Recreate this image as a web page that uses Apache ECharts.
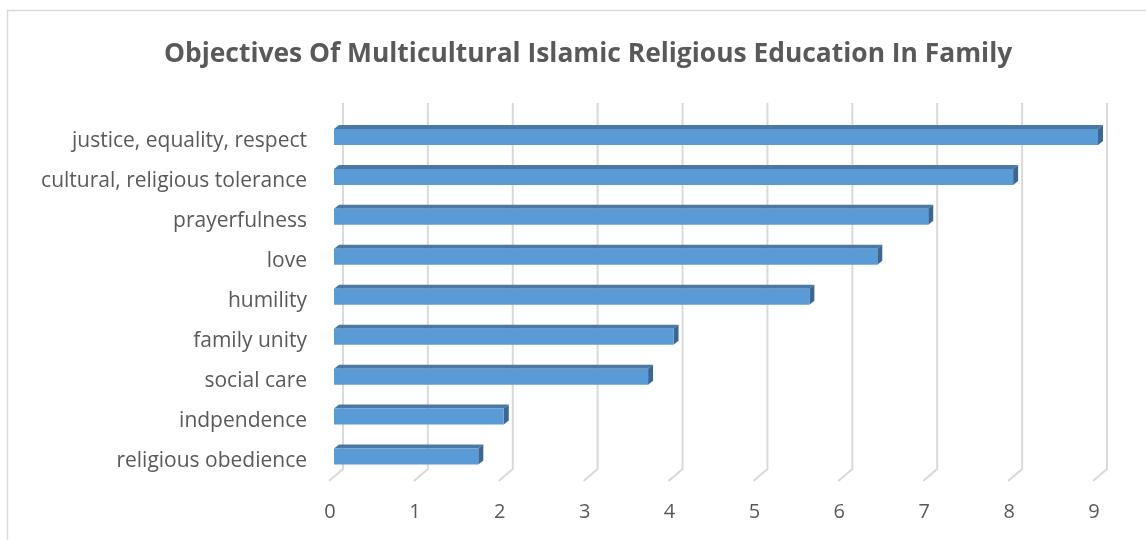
<!DOCTYPE html>
<html><head><meta charset="utf-8">
<script src="https://cdn.jsdelivr.net/npm/echarts@6/dist/echarts.min.js"></script>
<style>html,body{margin:0;padding:0;background:#fff}#c{width:1146px;height:540px}</style>
</head><body><div id="c"></div>
<script>
const categories = ["religious obedience","indpendence","social care","family unity","humility","love","prayerfulness","cultural, religious tolerance","justice, equality, respect"];
const values = [1.7, 2.0, 3.7, 4.0, 5.6, 6.4, 7.0, 8.0, 9.0];
const ticks = [0,1,2,3,4,5,6,7,8,9];
const titleText = "Objectives Of Multicultural Islamic Religious Education In Family";

const chart = echarts.init(document.getElementById('c'));
const FONT = '"Open Sans"';
chart.setOption({
  animation:false,
  backgroundColor:'#fff',
  title:{text:titleText,left:159,top:36,textStyle:{fontFamily:FONT,fontWeight:'bold',fontSize:26.4,color:'#595959'}},
  graphic:[{type:'rect',shape:{x:7.5,y:10.5,width:1300,height:700},style:{fill:null,stroke:'#d9d9d9',lineWidth:1.5},silent:true,z:-10}],
  grid:{left:334,right:48,top:121,bottom:59.5},
  xAxis:{type:'value',min:0,max:9,interval:1,
    axisLine:{show:false},axisTick:{show:false},splitLine:{show:false},
    axisLabel:{margin:22,fontFamily:FONT,fontSize:20,color:'#595959',padding:[0,8,0,0]}},
  yAxis:{type:'category',data:categories,
    axisLine:{show:false},axisTick:{show:false},
    axisLabel:{margin:27,fontFamily:FONT,fontSize:21,color:'#595959',padding:[3,0,0,0]}},
  series:[
    {type:'custom',z:1,data:ticks.map(t=>[t]),encode:{x:0},
     renderItem:function(params,api){
       const p=api.coord([api.value(0),0]);
       const x=p[0];
       return {type:'polyline',shape:{points:[[x+9,103],[x+9,469],[x-5,481]]},style:{stroke:'#d9d9d9',lineWidth:2,fill:null}};
     }},
    {type:'custom',z:5,data:values.map((v,i)=>[v,i]),encode:{x:0,y:1},
     renderItem:function(params,api){
       const v=api.value(0),i=api.value(1);
       const p0=api.coord([0,i]),p1=api.coord([v,i]);
       const x0=p0[0],x1=p1[0],yc=p0[1];
       const top=yc-12,bot=yc+4,dx=5,dy=-4;
       return {type:'group',children:[
         {type:'polygon',shape:{points:[[x0,top],[x0+dx,top+dy],[x1+dx,top+dy],[x1,top]]},style:{fill:'#4a78a7'}},
         {type:'polygon',shape:{points:[[x1,top],[x1+dx,top+dy],[x1+dx,bot+dy],[x1,bot]]},style:{fill:'#3c6793'}},
         {type:'rect',shape:{x:x0,y:top,width:x1-x0,height:bot-top},style:{fill:'#5b9bd5'}}
       ]};
     }}
  ]
});
</script></body></html>
